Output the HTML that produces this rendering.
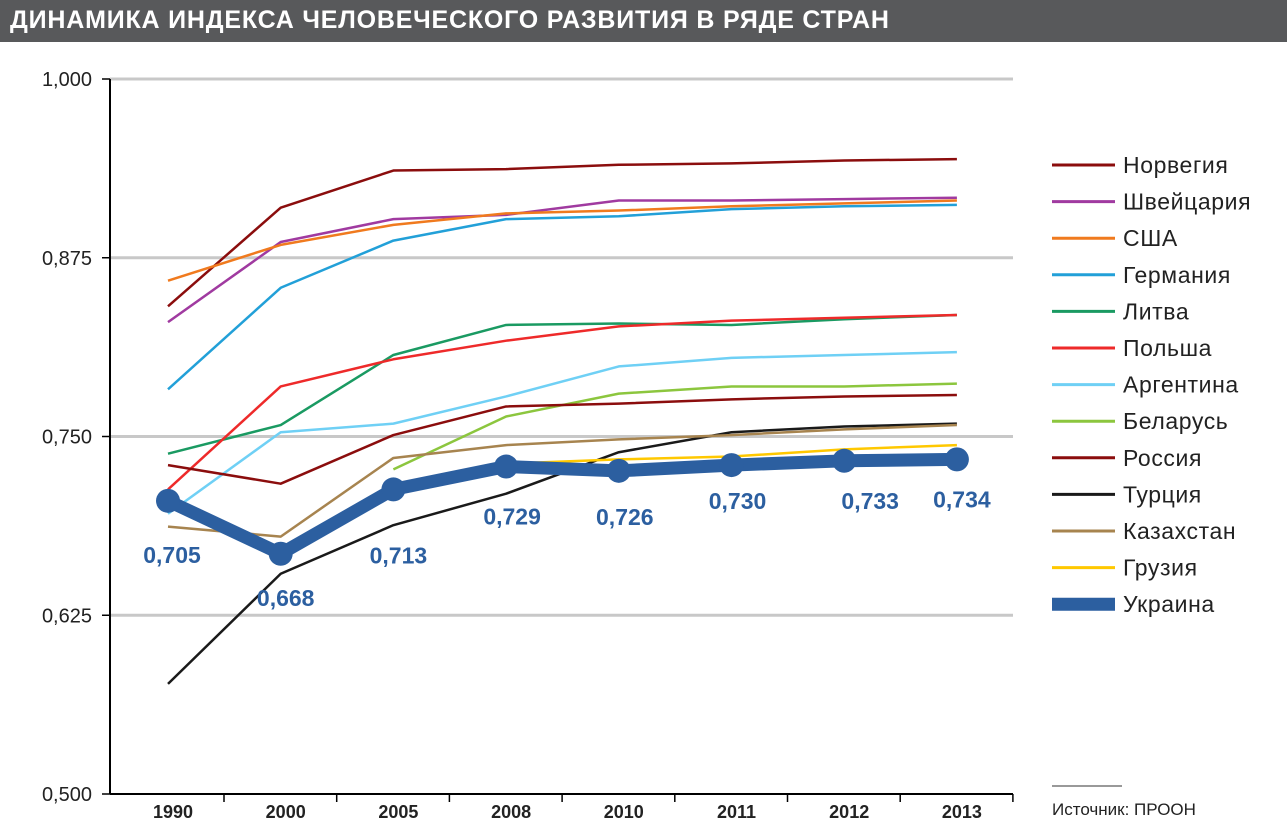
<!DOCTYPE html>
<html><head><meta charset="utf-8"><style>
body{margin:0;background:#fff;width:1287px;height:827px;overflow:hidden;font-family:"Liberation Sans",sans-serif}
#title{position:absolute;left:0;top:0;width:1287px;height:42px;background:#58595b;}
#title span{position:absolute;left:10px;top:6px;color:#fff;font-weight:bold;font-size:25px;letter-spacing:0.8px;font-family:"Liberation Sans",sans-serif}
svg{position:absolute;left:0;top:0}
</style></head><body>
<div id="title"><span>ДИНАМИКА ИНДЕКСА ЧЕЛОВЕЧЕСКОГО РАЗВИТИЯ В РЯДЕ СТРАН</span></div>
<svg id="chart" width="1287" height="827"></svg>
<script>
const years=["1990","2000","2005","2008","2010","2011","2012","2013"];
const yTicks=[0.5,0.625,0.75,0.875,1.0];
const names=["Норвегия","Швейцария","США","Германия","Литва","Польша","Аргентина","Беларусь","Россия","Турция","Казахстан","Грузия","Украина"];
const colors=["#8b0d0d","#a03aa0","#f07a1e","#22a0d8","#1a9a62","#ee2a2a","#6fd0f5","#8cc63e","#8b0d0d","#1a1a1a","#a7844f","#ffc800","#2c5fa0"];
const norway=[0.841,0.910,0.936,0.937,0.940,0.941,0.943,0.944];
const swiss=[0.830,0.886,0.902,0.905,0.915,0.915,0.916,0.917];
const usa=[0.859,0.884,0.898,0.906,0.908,0.911,0.913,0.915];
const germany=[0.783,0.854,0.887,0.902,0.904,0.909,0.911,0.912];
const lithuania=[0.738,0.758,0.807,0.828,0.829,0.828,0.832,0.835];
const poland=[0.713,0.785,0.804,0.817,0.827,0.831,0.833,0.835];
const argentina=[0.696,0.753,0.759,0.778,0.799,0.805,0.807,0.809];
const belarus=[null,null,0.727,0.764,0.780,0.785,0.785,0.787];
const russia=[0.730,0.717,0.751,0.771,0.773,0.776,0.778,0.779];
const turkey=[0.577,0.654,0.688,0.710,0.739,0.753,0.757,0.759];
const kazakhstan=[0.687,0.680,0.735,0.744,0.748,0.751,0.755,0.758];
const georgia=[null,null,0.710,0.731,0.734,0.736,0.741,0.744];
const ukraine=[0.705,0.668,0.713,0.729,0.726,0.730,0.733,0.734];
const series=[norway,swiss,usa,germany,lithuania,poland,argentina,belarus,russia,turkey,kazakhstan,georgia,ukraine];
const NS="http://www.w3.org/2000/svg";
const svg=document.getElementById('chart');
const X0=110,X1=1013;
const xs=i=>168+i*112.7;
const ys=v=>794-(v-0.5)*1430;
function mk(t,a){const e=document.createElementNS(NS,t);for(const k in a)e.setAttribute(k,a[k]);svg.appendChild(e);return e;}
yTicks.forEach(t=>{
 if(t>0.5){const g=mk('line',{x1:X0,x2:X1,y1:ys(t),y2:ys(t),stroke:'#c8c8c8','stroke-width':3});
 
 }
 const tk=mk('line',{x1:X0-8,x2:X0,y1:ys(t),y2:ys(t),stroke:'#000','stroke-width':1.5});
 
 
 const tx=mk('text',{x:92,y:ys(t)+7,'text-anchor':'end','font-size':20,fill:'#222'});
 tx.textContent=t.toFixed(3).replace('.',',');
 
 
});
const ya=mk('line',{x1:X0,x2:X0,y1:ys(1),y2:794,stroke:'#000','stroke-width':2});


const xa=mk('line',{x1:X0,x2:X1,y1:794,y2:794,stroke:'#000','stroke-width':2});


years.forEach((y,i)=>{
 const tk=mk('line',{x1:xs(i)+56,x2:xs(i)+56,y1:794,y2:802,stroke:'#000','stroke-width':1.5});
 
 
 const tx=mk('text',{x:xs(i)+5,y:818,'text-anchor':'middle','font-size':18,'font-weight':'bold',fill:'#222'});
 tx.textContent=y;
 
 
});
series.forEach((s,k)=>{
 const pts=[];s.forEach((v,i)=>{if(v!==null)pts.push(xs(i)+','+ys(v));});
 const uk=k===12;
 const p=mk('polyline',{points:pts.join(' '),fill:'none',stroke:colors[k],'stroke-width':uk?13:2.5,'stroke-linejoin':'round'});
 
 
});
const ukOff=[[4,62],[5,52],[5,74],[6,58],[6,54],[6,44],[26,48],[5,48]];
ukraine.forEach((v,i)=>{
 const c=mk('circle',{cx:xs(i),cy:ys(v),r:12,fill:'#2c5fa0'});
 
 
 const t=mk('text',{x:xs(i)+ukOff[i][0],y:ys(v)+ukOff[i][1],'text-anchor':'middle','font-size':23,'font-weight':'bold',fill:'#2c5fa0'});
 t.textContent=v.toFixed(3).replace('.',',');
 
 
});
names.forEach((n,k)=>{
 const y=165+k*36.6;
 const l=mk('line',{x1:1052,x2:1115,y1:y,y2:y,stroke:colors[k],'stroke-width':k===12?13:3});
 
 
 const t=mk('text',{x:1123,y:y+8,'font-size':23,'letter-spacing':0.6,fill:'#222'});
 t.textContent=n;
 
 
});
const sl=mk('line',{x1:1052,x2:1122,y1:786,y2:786,stroke:'#333','stroke-width':1});


const st=mk('text',{x:1052,y:815,'font-size':17,fill:'#222'});
st.textContent='Источник: ПРООН';


</script>
</body></html>
